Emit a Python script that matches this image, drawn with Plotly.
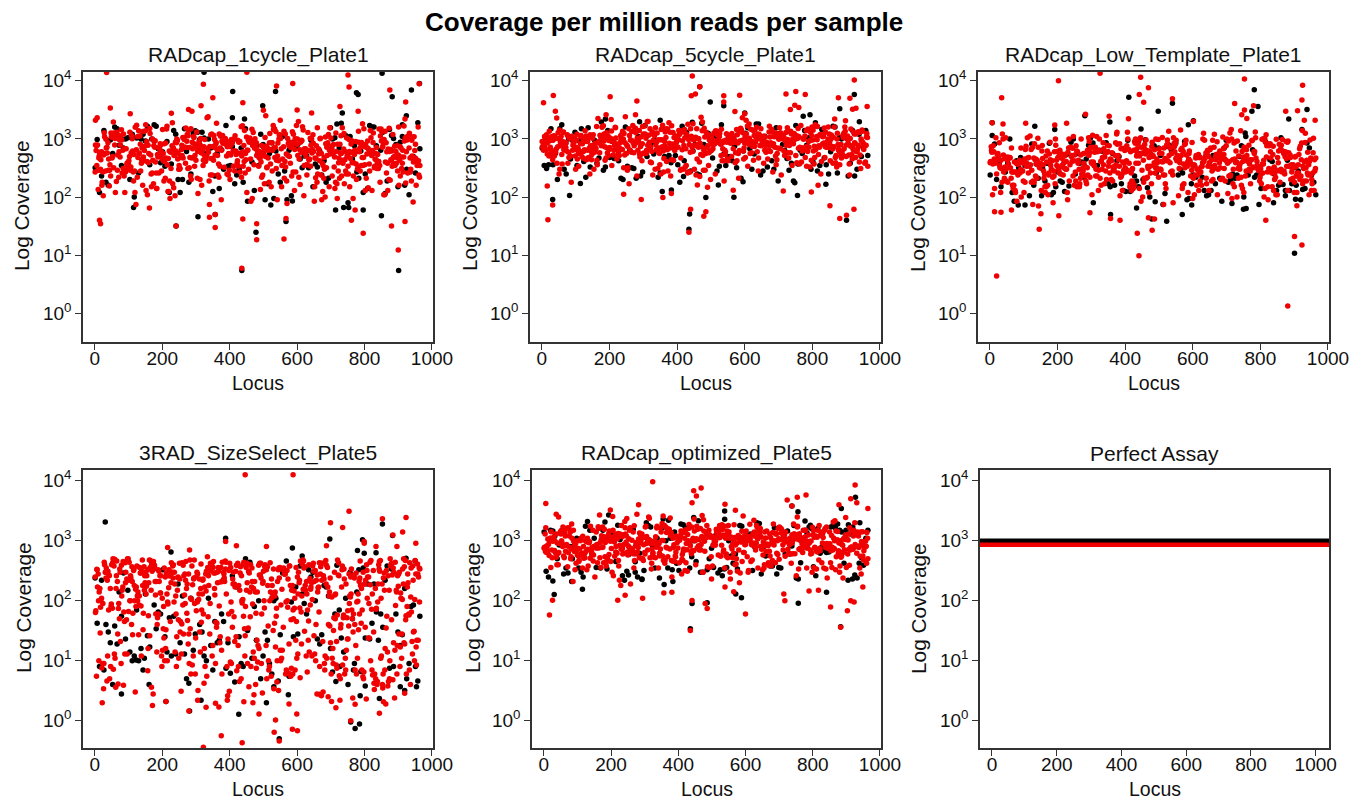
from math import gcd
import numpy as np
import plotly.graph_objects as go

W, H = 1364, 801
main_title = "Coverage per million reads per sample"
panel_titles = ["RADcap_1cycle_Plate1", "RADcap_5cycle_Plate1", "RADcap_Low_Template_Plate1",
                "3RAD_SizeSelect_Plate5", "RADcap_optimized_Plate5", "Perfect Assay"]
y_tick_vals = [1, 10, 100, 1000, 10000]
y_tick_text = ["10<sup>0</sup>", "10<sup>1</sup>", "10<sup>2</sup>", "10<sup>3</sup>", "10<sup>4</sup>"]
x_tick_vals = [0, 200, 400, 600, 800, 1000]

# ---- panel 1: RADcap_1cycle_Plate1
p1_red_x = [35,322,350,315,46,2,7,105,227,278,288,539,587,439,600,643,727,751,754,875,922,962,451,500,781,14,17,357,340,357,796,480,480,561,436,900,920,880,241,761,567,439]
p1_red_y = [13900,8700,5100,3700,3400,2100,2300,2700,2750,3200,3000,8100,9000,4200,3150,2800,3600,12500,7800,6900,4300,8900,14000,3100,3000,40,35,30,45,50,24,35,18.5,19,6,12.3,38,32,32,40,43,42]
p1_blk_x = [324,409,536,776,781,852,882,939,963,498,734,912,924,408,444,436,901,478,567,306,357,241,115,753,796,714,850,522,586]
p1_blk_y = [14000,6500,6500,6200,5800,13500,5300,6900,9000,3700,2800,1750,2500,2300,2200,5.5,5.5,25,38,46,50,32,66,66,60,60,48,73,86]
p1_red_bulk = [270,520,880,310,720,190,610,1150,420,130,760,340,95,1300,560,240,82,880,460,1050,300,680,150,520,1250,78,410,920,260,640,
1080,350,175,730,480,1500,220,600,90,830,380,1180,540,280,950,120,680,430,1600,310,760,200,1020,470,150,880,350,640,1240,95,
530,290,780,1400,420,180,900,610,250,1090,360,720,130,500,1340,280,840,440,105,660,980,220,570,1560,340,790,165,450,1120,620,
75,390,870,240,1700,520,310,690,1010,140,460,810,270,590,1260,85,370,730,190,950,500,1650,280,640,120,860,410,1110,330,560,
210,770,1440,480,160,920,350,650,1820,270,530,1030,115,700,420,260,880,590,1270,180,340,760,480,1000,60,620,230,840,1500,370,
150,560,930,290,720,450,1190,195,640,1380,340,820,105,510,1060,260,690,440,170,910,590,1620,310,750,135,480,1130,370,630,220,
860,1480,520,280,95,710,400,1000,170,560,1290,330,800,460,1090,230,620,130,950,380,1550,680,270,520,850,145,440,1210,320,730,
1080,210,590,360,1680,490,125,780,270,1020,540,350,880,185,660,1320,430,90,720,300,1130,500,215,840,610,1450,250,390,980,155,
570,710,340,1240,110,460,890,280,630,1540,200,750,420,1040,325,160,680,520,1360,240,810,380,1110,135,590,300,920,480,1720,210,
660,350,1000,105,540,780,270,1260,430,160,870,620,320,1470,500,230,740,1080,380,125,580,960,290,1190,440,700,190,830,550,1390,
260,100,640,1050,350,780,480,1620,220,560,900,310,1170,140,690,420,1020,250,800,530,1340,170,370,620,1090,85,470,750,280,1510,
590,200,860,340,1130,440,680,130,980,510,1280,240,720,380,1060,160,600,850,300,1430,480,110,770,560,230,1220,350,650,940,180,
530,1590,280,820,420,1000,145,710,360,1150,490,240,630,1330,95,870,450,310,1040,590,190,760,1480,370,120,680,520,980,260,1210,
430,800,340,1120,210,570,1670,150,720,480,900,290,1010,610,230,850,400,1350,540,320,760,1060,480,1500,260,640,880,360,1180,230]
p1_red_more = [480,650,390,820,560,700,440,910,610,330,750,520,1020,270,680,470,860,590,380,1240,640,510,930,300,720,460,1100,570,240,790,
2000,620,410,860,540,170,980,350,660,1900,450,770,290,580,1180,400,710,125,520,880,360,640,2300,470,1020,210,690,560,310,830,
430,600,1350,280,740,510,970,380,200,640,2100,490,820,340,1150,550,720,160,430,900,610,280,1060,470,680,370,1700,530,230,790,
450,1000,320,620,860,410,150,730,560,1290,380,670,2500,490,250,940,600,350,780,110,520,1120,430,700,290,880,570,1480,340,650,
470,1850,220,800,530,390,1010,620,180,740,460,1200,310,580,920,420,690,75,510,850,360,1400,640,270,770,480,1080,550,190,710,
410,960,300,620,2200,450,830,350,560,1170,240,690,490,1000,140,600,380,790,1550,520,280,720,430,900,340,1260,610,200,500,860,
65,390,740,570,1030,310,660,470,1750,250,820,530,360,980,600,170,700,440,1140,290,640,510,880,400,1380,560,220,760,450,1000,
350,620,120,810,530,1600,270,700,440,920,580,330,1210,480,760,190,630,1040,390,550,2400,300,840,470,650,1080,230,720,520,960,
410,1450,130,600,790,350,1020,490,680,260,870,560,1300,420,210,740,510,930,330,620,1950,460,1100,380,700,150,540,850,290,660,
480,1190,370,780,580,240,990,440,710,1520,320,630,500,880,180,560,1060,400,740,280,670,90,470,950,350,1340,600,220,810,520]
p1_blk_bulk = [320,520,250,1100,90,370,1300,170,1000,120,85,1200,66,340,560,420,1000,680,510,180,880,280,120,640,90,360,620,1500,200,1850,
1700,960,240,560,1900,320,610,150,1100,900,410,800,1650,210,180,1050,700,300,160,620,1040,260,450,1500,800,180,340,760,1200,920,
270,700,1000,1800,650,180,330,1300,500,800,200,1020,250,600,1600,350,1200,760,300,700,1050,140,1400,370,980,480,720,120,1150,620,
390,1600,760,1000,450,240,350,1000,560,230,150,1300,110,880,200,1450,95,680,1700,130,260,1100,170,780,1550,230,120,950,1380,300,
105,1200,190,860,1650,140,400,1040,80,730,1500,210,125,980,320,1270,160,640,1400,115,560,1750,250,900,100,1150,350,1600,180,700]

# ---- panel 2: RADcap_5cycle_Plate1
p2_red_x = [5,34,40,202,281,445,442,454,467,538,538,585,722,751,779,748,735,760,877,911,924,919,929,962,571,600,190,277,18,32,16,294,242,852,881,901,923,440,435,479,485,358,383,797,490,460,714,566]
p2_red_y = [4200,5600,3000,5300,4500,12000,5500,5900,7900,5500,4300,5650,5900,6500,5800,3800,3200,3450,5100,5000,10300,3250,3350,3600,2950,2700,2600,2600,41,73,155,91,112,71,43,49,62,62,25,47,56,98,115,123,148,161,127,131]
p2_blk_x = [32,82,114,188,289,350,467,498,538,600,445,773,793,881,924,939,437,435,419,356,383,485,522,568,756,901,840,595,748]
p2_blk_y = [91,107,172,2200,1980,2100,7900,4300,3700,2800,1930,2450,2600,3300,5800,1970,51,28,225,125,132,98,161,99,107,40,166,183,176]
p2_red_bulk = [900,480,1350,720,290,1100,620,1450,380,950,520,820,225,1200,680,310,1000,560,1550,760,240,880,440,1250,660,950,350,1750,610,1080,
780,400,1300,930,520,1150,270,850,1650,640,1020,450,730,1480,330,900,590,1220,790,420,1060,680,1380,250,960,550,1140,840,360,1700,
720,1020,470,1280,610,880,300,1120,750,520,1420,920,390,680,1180,830,230,1050,580,1500,740,970,440,1330,650,1100,340,860,1600,560,
1000,780,270,1240,700,910,480,1380,620,1060,360,820,1520,540,1170,720,300,990,650,1290,420,870,1630,760,1030,510,240,1210,680,930,
370,1110,590,1450,800,450,1020,700,1300,260,880,620,1190,530,960,1680,340,770,1100,640,420,1350,850,580,1020,290,730,1500,960,470,
1240,680,370,900,1130,600,1420,800,250,1030,520,1290,720,430,950,1600,640,1080,350,840,1180,560,290,980,760,1380,470,1060,670,1220,
320,880,1520,590,1010,730,400,1280,850,1120,540,690,240,970,1430,630,810,1150,450,1040,700,300,1330,580,900,1650,760,510,1090,390,
860,1240,660,960,270,1180,610,780,1480,420,1020,720,350,1310,880,560,1120,640,1590,480,930,300,1060,740,1250,520,850,400,1400,680,
1000,230,790,1170,590,1510,700,440,1080,860,330,1260,620,970,1680,510,750,1140,380,920,640,1350,280,1040,810,560,1220,700,460,1560,
900,340,1100,660,1300,520,830,1010,250,740,1440,590,1170,400,960,690,1260,310,850,1580,540,1070,780,360,1190,620,910,1370,480,730,
1030,270,1490,650,840,1140,430,980,710,1320,560,240,880,1210,610,1050,370,770,1640,500,920,1120,660,300,1010,820,1400,540,1250,430,
700,950,1100,280,1530,640,860,1180,390,1060,600,740,1340,480,960,250,1230,700,860,1470,320,1040,580,1120,770,410,900,1660,530,1000,
290,830,1290,620,1080,450,960,1540,730,340,1150,560,880,1380,680,250,1020,510,1200,790,400,1450,640,970,300,1110,720,1320,480,860,
1040,620,1500,380,780,1160,540,930,1280,330,1070,690,450,1220,850,600,1010,1390,300,760,1120,550,1600,420,900,700,1250,380,1030,640]
p2_red_more = [800,950,700,1100,850,620,1020,760,1250,900,540,1160,820,680,1400,960,730,1080,480,880,1900,650,1030,790,420,1200,910,580,1320,740,
2100,1000,860,640,1150,520,970,770,2300,690,1090,840,450,1260,600,930,210,1040,720,1500,870,560,1130,780,390,990,660,1830,1060,830,
710,1220,500,940,1600,800,620,1080,2000,750,1170,430,900,680,1300,850,570,1010,190,760,1120,650,1420,920,490,1050,810,2250,700,980,
590,1190,860,360,1350,730,1020,630,1100,880,1700,520,960,760,1240,440,1070,820,170,670,1150,900,580,1480,790,1000,2400,710,1300,610,
930,460,1060,840,1210,740,1950,560,1130,970,660,1370,810,410,1010,720,1550,890,530,1180,770,160,1040,640,1260,940,600,1090,2150,750,
1000,480,1320,860,700,1120,570,950,1780,800,650,1030,370,1230,910,730,1450,540,1070,830,2050,680,1160,990,470,1280,760,890,620,1100,
1640,720,1020,510,1210,870,660,1380,780,1050,430,940,1140,590,2200,810,690,1000,1300,550,900,740,1170,350,1060,830,1500,640,970,1240,
720,1080,490,910,1720,780,620,1130,850,2350,570,1010,700,1350,920,450,1190,800,660,1040,1560,740,880,530,1100,960,180,1270,610,840,
1010,710,1410,590,1150,860,2000,760,1060,470,930,1220,650,800,1660,990,540,1120,730,1310,870,380,1080,680,1470,900,620,1190,2280,770,
1030,510,1250,840,690,1120,950,1590,580,1000,810,440,1180,740,1360,890,640,1070,200,920,1210,700,1030,1800,560,860,1130,650,980,750]
p2_blk_bulk = [700,550,1100,380,750,420,600,1050,470,300,800,920,380,520,1500,420,950,520,300,210,230,420,700,250,470,380,1050,620,350,290,
430,200,800,550,1400,680,310,1050,500,460,360,620,950,780,280,1300,460,390,560,330,840,700,1550,320,1100,500,900,470,1250,620,
1400,270,950,640,520,360,1100,870,500,1250,640,1000,350,480,1450,750,330,560,1300,450,800,460,1500,280,500,1200,620,340,1050,540,
1400,350,800,1550,640,420,1000,1250,500,360,240,1700,300,210,1600,260,1750,330,280,1850,220,370,1650,250,190,1500,310,1800,270,230,
1450,200,1600,340,290,1900,240,410,1700,180,300,1550,260,350,1800,230,1400,320,210,1650,280,1950,400,250,1500,190,360,1750,300,220]

# ---- panel 3: RADcap_Low_Template_Plate1
p3_red_x = [20,881,441,436,901,923,146,480,816,487,469,357,385,204,14,33,64,151,296,908,326,446,203,753,35,469,442,455,540,925,923,724,875,910,753,780,283,353,410,745,760,930,962,7,39,106,227,192,602]
p3_red_y = [4.4,1.34,9.8,24,21,15,28,27,40,42,44,43,40,48,56,55,60,52,54,71,13500,11500,10000,10700,5100,7600,5800,4250,4900,8400,4650,4050,3000,3050,3150,3700,2650,2450,2230,2600,2250,2100,2100,1900,1800,1850,1850,1740,2000]
p3_blk_x = [411,782,540,498,938,884,775,793,587,602,355,281,133,7,192,447,901,523,357,569,479,434,597,84,104,750,758,716,904,839,874,306,489,153,923,755]
p3_blk_y = [5200,7000,4100,3000,3200,2200,3000,3600,1750,2050,1950,2500,1650,1900,1450,1480,10.8,38.5,50,50,42,65,73,73,73,62,64,78,92,80,105,80,83,105,1450,1270]
p3_red_bulk = [390,210,720,330,170,480,95,760,260,420,120,600,340,180,920,280,110,530,380,760,210,100,450,300,1250,160,640,370,1050,240,
520,130,850,310,430,190,680,270,110,590,360,820,220,470,140,320,720,400,180,560,260,950,150,490,340,640,200,420,120,780,
300,530,170,380,880,240,620,450,130,350,1000,210,560,290,720,160,440,1050,260,620,180,390,830,310,520,110,470,230,990,350,
660,150,420,280,870,190,540,340,1050,240,610,130,450,300,760,210,380,1000,170,590,320,460,880,100,260,680,410,190,520,310,
990,140,380,620,230,750,450,170,330,1000,270,540,400,120,840,300,610,190,480,950,220,360,700,160,440,280,1050,130,570,340,
790,210,420,630,180,500,310,900,240,380,120,680,450,160,300,980,560,210,370,810,140,480,270,620,1000,190,400,330,730,110,
520,260,880,350,170,440,1030,230,590,300,120,750,410,200,960,340,510,150,660,280,430,860,190,370,560,100,720,260,450,1000,
170,390,610,310,820,130,480,230,540,950,280,410,160,700,350,110,500,240,880,320,600,180,430,1050,270,520,150,370,760,210,
640,330,920,170,460,280,690,120,410,1000,250,560,340,140,830,430,190,610,300,980,230,510,360,760,160,420,110,650,290,890,
190,470,340,710,130,550,260,1000,400,170,620,300,830,220,450,115,580,360,950,240,490,180,700,310,420,870,140,540,260,1020,
370,200,640,440,105,780,290,510,160,890,350,230,600,420,1050,180,470,300,720,120,560,240,930,380,190,650,320,480,820,150,
430,270,1000,210,560,340,700,130,480,250,860,390,170,610,300,1030,220,520,400,130,760,280,450,180,920,330,590,240,690,110,
500,360,850,200,440,290,1000,150,620,380,230,780,470,120,540,310,960,190,420,680,260,800,350,140,570,430,1080,210,310,650,
480,170,900,270,390,1100,200,520,600,300,840,160,440,720,230,1050,350,560,130,480,280,900,210,390,620,170,1000,330,500,190]
p3_red_more = [340,420,280,520,380,310,460,250,600,400,350,490,220,560,330,430,270,680,370,300,1300,450,240,530,390,320,75,620,290,410,
360,500,200,740,340,440,260,580,380,90,470,310,660,230,1150,410,350,540,270,800,390,190,480,320,610,250,430,85,370,510,
290,1400,440,350,220,570,400,300,720,260,460,80,340,640,210,1200,380,490,280,550,330,170,430,700,240,360,1350,510,300,420,
270,590,350,130,460,770,230,400,320,1250,530,280,410,70,610,340,250,480,150,670,300,440,210,860,370,520,1100,290,390,180,
450,580,310,95,360,750,260,470,1450,340,200,560,410,280,630,120,380,490,240,830,330,1180,430,300,540,160,400,690,270,370,
510,85,320,600,230,450,1000,290,380,140,520,350,260,740,420,1320,310,480,200,590,340,270,110,440,660,300,390,170,530,960,
250,410,320,1220,570,280,460,75,360,720,230,500,340,150,620,300,430,1380,260,380,540,190,810,320,470,100,280,640,350,410,
220,520,1120,300,450,130,370,700,260,480,340,1270,590,240,400,310,90,550,280,760,360,430,170,510,1020,290,390,210,620,340,
1430,470,250,380,120,560,300,680,420,230,350,900,270,490,1160,330,80,440,600,260,370,190,520,310,730,400,280,1300,460,340,
230,580,140,360,650,290,430,950,250,500,1060,320,410,105,540,270,380,780,220,450,340,1210,600,300,160,480,260,710,390,330]
p3_blk_bulk = [240,220,450,280,260,540,160,75,380,75,200,350,500,130,380,210,600,110,480,220,160,300,125,130,520,190,240,560,350,240,
170,270,480,620,180,300,400,320,240,180,250,700,310,220,150,440,210,500,300,170,640,240,220,380,170,850,190,410,260,320,
650,190,480,250,420,150,520,350,700,240,560,130,760,270,440,760,210,430,230,320,200,160,380,130,340,850,170,250,430,640,
150,820,500,370,240,300,420,180,560,200,110,850,140,95,1000,130,780,120,900,100,160,1100,125,85,950,150,820,105,1050,135,
90,880,165,740,110,1000,145,820,100,950,120,700,170,1150,130,780,90,900,155,1050,115,840,140,970,105,760,125,1000,85,860]

# ---- panel 4: 3RAD_SizeSelect_Plate5
p4_red_x = [446,588,754,853,923,699,735,913,884,799,952,388,420,509,896,687,834,799,281,216,437,547,532,322,375,586,601,536,599,487,715,279,576,772,171,211,305,330,358,442,469,844,856,759,667,919]
p4_red_y = [12600,12600,3100,2330,2450,2000,1660,1400,1250,910,910,970,830,800,800,830,800,970,700,770,0.43,0.46,0.64,0.36,0.56,0.72,0.68,1.03,1.3,1.3,1.65,1.45,1.9,1.88,1.8,2.1,2.2,1.67,1.95,2.07,2.0,1.33,2.07,1.0,2.75,2.86]
p4_blk_x = [31,388,697,794,883,853,586,615,226,568,834,799,779,923,950,79,281,427,547,759,772,785,787,844,906,919,954,802,509,531,574,315,211,161,123,147,715,727,767]
p4_blk_y = [2050,1100,1070,1040,1230,1900,760,560,650,460,630,620,690,510,460,2.8,1.45,1.28,0.5,0.95,0.74,0.88,2.6,2.35,3.7,3.2,3.7,3.8,2.0,3.7,2.7,2.2,2.1,4.0,10.3,11,4.5,8,7]
p4_red_bulk = [250,130,60,340,22,100,480,9,250,45,300,4.5,140,62,8.5,290,22,110,380,5,160,40,300,12,470,70,200,4.2,350,100,
16,420,30,7.5,260,130,54,500,6,180,21,380,95,10,310,48,140,540,4,230,33,90,420,13,170,280,60,7,350,110,
26,450,190,4.2,80,310,15,220,55,390,9,130,470,36,260,6.5,100,340,21,160,500,11,210,70,290,4.1,420,130,28,360,
52,180,8,260,430,95,17,330,60,210,6.8,490,140,24,280,75,390,11,170,500,40,240,6,120,350,18,300,88,210,8.5,
440,32,150,270,66,5,380,110,20,230,480,50,9.5,310,170,28,420,100,6.8,250,60,350,14,190,500,38,130,280,8,400,
70,220,4.5,330,150,23,460,90,12,260,55,370,180,7,300,110,31,430,16,210,82,340,6,160,480,45,240,9,120,380,
25,280,65,11,190,420,100,35,310,5.5,220,150,470,18,80,260,42,340,13,120,400,7.5,180,58,290,22,360,95,4,210,
27,130,450,8.5,75,300,160,14,240,52,390,105,6,270,30,170,440,11,90,220,48,330,7,140,500,20,260,65,380,10,
185,35,300,120,5.5,430,78,16,250,150,45,360,8,200,95,24,320,12,170,470,60,6,280,110,36,400,9,230,70,19,
340,135,5,260,50,420,14,190,85,310,7,150,28,370,105,11,240,40,460,18,160,65,300,8,210,125,33,390,13,270,
6,175,55,340,95,21,430,10,230,140,42,310,7,190,80,26,380,15,130,470,60,9,260,105,34,350,5.5,200,70,420,
12,155,280,48,8,330,115,23,240,400,62,10,180,300,38,130,440,6.5,90,260,18,370,52,210,9,150,28,320,76,480,
11,225,100,350,41,7,195,290,58,15,140,410,30,6,240,85,330,20,170,460,48,12,270,120,5,360,68,200,25,310,
9.5,155,430,36,95,250,14,190,62,340,7.5,125,280,22,400,75,11,210,50,360,17,145,300,6,88,260,32,420,10,180,
45,320,8,220,115,28,380,5.5,165,72,290,13,240,54,350,19,130,440,9,200,40,310,7,100,250,24,360,65,11,170,
280,6,80,400,34,150,12,230,56,320,8,190,105,21,260,44,370,15,135,300,5,90,220,30,340,10,60,160,4.5,210]
p4_red_more = [280,3.2,110,350,14,240,420,3.6,170,68,300,10,210,130,25,380,2.8,90,260,17,450,6,190,75,320,12,150,3.4,400,40,
230,8,310,105,2.4,180,360,30,95,270,12,480,4.8,140,56,340,3.1,220,85,19,410,7,260,120,2.6,300,46,160,5,370,
200,23,440,9,130,280,3.8,340,62,15,240,2,180,390,35,100,310,6,210,78,460,13,150,2.9,290,52,360,10,120,230,
3.5,420,27,170,82,330,5.2,250,110,16,380,2.2,200,64,300,8,450,140,3,270,44,350,11,190,95,4,320,21,160,410,
7,240,72,2.7,370,125,18,280,50,430,3.3,210,100,9,340,31,150,260,5.8,400,66,2.1,310,13,180,88,470,3.7,230,38,
360,115,6.2,290,24,200,430,2.5,145,58,320,10,250,80,3.9,390,16,170,280,34,2.3,440,120,7,220,48,350,12,190,92,
300,3,410,20,155,260,5.4,370,74,2.6,230,105,15,330,42,180,460,8,280,135,3.2,210,60,390,11,165,250,28,4.4,350,
98,310,7.2,220,480,18,140,2.8,290,54,400,13,185,83,340,3.6,240,36,160,420,6,300,112,26,2.4,360,70,200,9,270,
430,16,130,320,4.6,235,47,380,10,175,90,2.2,300,22,450,150,5,260,68,340,3.4,210,125,14,400,33,190,280,7.6,370,
85,1.9,310,12,230,440,29,155,3.1,290,60,360,8.5,205,100,19,420,4,270,140,40,1.7,335,76,245,11,390,170,5.6,300]
p4_blk_bulk = [240,60,110,27,6.3,12,36,22,440,350,32,10,14,20,4,180,110,55,90,4.2,18,280,52,60,30,17,6.6,500,14,24,
7.5,20,27,10,4.6,130,5,30,290,14,22,12,26,330,8,150,70,45,30,19,12,8,380,13,60,27,25,65,5,130,
140,9,23,390,60,40,23,30,85,28,120,8,4.6,330,190,100,7,9,25,290,60,22,7,100,40,80,170,20,340,110,
60,42,22,16,50,170,55,6.5,20,220,300,100,9,25,190,7.5,100,65,23,80,10,300,4.4,140,16,45,8,250,28,5,
95,13,380,6,34,190,11,70,4,260,19,120,7,42,330,15,160,5.5,55,220,9,85,24,440,12,110,6.2,38,170,18]

# ---- panel 5: RADcap_optimized_Plate5
p5_red_x = [324,6,37,198,282,277,441,446,454,468,539,570,724,754,780,878,913,926,931,964,738,754,355,17,26,220,242,294,436,441,486,480,600,717,714,853,883,903,913,923,789,357,381,565,949]
p5_red_y = [9600,4200,2780,3250,4000,2780,4300,6800,5600,7600,4070,3240,4800,5300,5800,4000,5000,8500,4300,3450,3800,2500,2600,58,102,102,123,110,32,101,74,90,60,100,129,79,36,68,100,95,145,135,139,141,170]
p5_blk_x = [193,220,355,371,446,538,538,738,756,777,793,885,927,940,436,441,486,571,588,115,27,31,83,757,883,841,905,918,384,358,292,252,272]
p5_blk_y = [2700,1820,2300,2200,2450,3150,2280,3800,3050,2140,1820,3450,5300,1990,34,90,93,129,112,155,214,127,210,91,37,138,220,230,210,187,226,270,447]
p5_red_bulk = [750,1450,620,1700,980,350,1250,560,800,1050,180,1350,700,450,1600,900,280,1150,620,1800,760,330,1000,520,1400,850,260,1200,680,1900,
950,420,1500,730,1100,300,870,1650,560,1020,700,1800,380,1250,900,520,1450,640,1080,350,1700,800,470,1300,580,1000,240,1550,760,1120,
430,920,1400,650,300,1200,820,1750,540,1050,700,350,1450,880,610,1300,250,1000,480,1650,780,1150,380,900,1500,640,320,1200,740,1800,
520,1020,420,1380,860,600,1600,300,1100,700,1400,480,950,220,1250,770,580,1700,840,350,1100,650,1500,400,980,1280,530,800,1850,300,
1150,690,1400,470,1000,760,230,1300,600,1600,870,390,1180,720,1450,540,980,320,1700,830,470,1250,650,1050,1500,280,900,720,1350,560,
1800,430,1020,760,1300,350,940,620,1550,800,260,1150,520,1400,700,1000,380,1750,610,1220,870,450,1080,680,1500,330,950,760,1300,540,
1650,240,1100,800,1400,470,980,640,1800,350,1180,730,1500,560,880,290,1320,680,1050,420,1600,780,1200,500,950,340,1450,720,1000,610,
2000,880,450,1250,660,1650,380,1050,780,1400,530,930,310,1200,840,1700,600,1100,430,1500,730,1000,350,1300,650,1850,520,900,1150,400,
1600,770,1000,580,1400,340,1200,690,1800,470,1000,880,1500,610,1100,360,1300,750,2050,540,960,420,1550,820,1180,650,1400,370,1000,720,
1700,500,1250,870,340,1450,620,1080,1950,780,450,1300,920,1600,560,1050,350,1400,700,1150,480,1750,860,620,1000,1350,400,1500,760,1100,
540,1900,340,1200,800,1450,620,950,370,1300,700,1650,520,1050,880,430,1500,660,1150,360,1750,770,1000,590,1400,330,1250,840,550,1600,
700,1100,400,1450,620,920,1300,250,1700,560,1050,780,1400,330,1150,660,1900,470,1000,860,1500,360,1250,720,1100,540,1650,300,950,800,
1350,600,1050,1800,420,1200,740,1500,300,1000,860,1650,560,1150,380,1400,700,1000,490,1750,820,310,1280,650,1050,1500,430,900,1350,620,
1150,360,1700,780,1000,520,1450,300,1200,700,1000,1600,430,900,1300,600,1550,350,1100,800,1400,500,1050,1250,360,950,1450,640,1150,520]
p5_red_more = [880,1120,760,1310,940,640,1070,820,1430,990,580,1210,860,700,2200,1020,740,1160,510,920,2400,680,1090,830,430,1260,960,610,1380,780,
1040,2100,900,670,1190,550,1010,790,2600,720,1130,870,470,1340,620,970,200,1080,750,1560,910,590,1170,810,410,1030,690,2300,1100,850,
730,1280,520,980,1680,830,640,1120,2500,770,1220,450,930,710,1360,880,600,1050,170,790,1170,670,1490,950,510,1090,840,2700,720,1020,
610,1240,890,380,1420,760,1060,650,1150,910,1780,540,1000,790,1300,460,1110,850,190,700,1190,930,600,1550,820,1040,2350,740,1360,630,
970,480,1100,870,1260,770,2250,580,1170,1010,680,1440,840,430,1050,750,1620,920,550,1230,800,150,1080,660,1320,980,620,1130,2550,780,
1040,500,1380,890,720,1160,590,990,1860,830,670,1070,390,1280,940,760,1520,560,1110,860,2450,700,1210,1030,490,1340,790,920,640,1140,
1720,750,1060,530,1260,900,680,1440,810,1090,450,980,1190,610,2150,840,710,1040,1360,570,930,770,1220,360,1100,860,1570,660,1010,1300,
750,1120,510,950,1800,810,640,1170,880,2650,590,1050,730,1410,960,470,1240,830,680,1080,1630,770,910,550,1140,1000,210,1330,630,870,
1050,740,1470,610,1200,890,2380,790,1100,490,970,1270,670,830,1740,1030,560,1170,760,1370,900,400,1120,710,1540,940,640,1240,2500,800,
1070,530,1310,870,720,1170,990,1660,600,1040,840,460,1230,770,1420,920,660,1110,230,960,1260,730,1070,1880,580,890,1180,670,1020,780]
p5_blk_bulk = [1400,780,620,1300,600,1050,1700,1250,350,1600,450,300,820,420,1350,380,1100,1500,320,250,1850,420,1250,650,360,1650,1700,1000,350,600,
1400,850,380,350,1100,1300,300,1500,560,450,640,750,360,1350,540,1100,1450,330,500,850,800,390,1100,1550,420,1000,1300,680,500,1100,
1500,350,850,600,1100,1200,560,1700,520,1050,640,1400,360,1200,800,330,600,950,1600,500,1100,350,1450,800,1800,420,1050,590,1500,340,
1250,620,1100,1500,430,1650,800,350,1000,1500,280,2000,240,1750,310,1900,260,340,1600,300,2100,230,1850,290,360,1700,250,1950,320,270,
1800,220,1650,330,2050,260,300,1750,240,1900,350,280,1600,310,2000,230,1700,340,260,1850,290,1500,370,2150,250,1800,320,280,1650,240]

# ---- panel 6: Perfect Assay
p6_locus = [-40, 1045]
p6_black = [1000, 1000]
p6_red = [858, 858]

panels = [
    (p1_red_bulk + p1_red_more, p1_blk_bulk, p1_red_x, p1_red_y, p1_blk_x, p1_blk_y),
    (p2_red_bulk + p2_red_more, p2_blk_bulk, p2_red_x, p2_red_y, p2_blk_x, p2_blk_y),
    (p3_red_bulk + p3_red_more, p3_blk_bulk, p3_red_x, p3_red_y, p3_blk_x, p3_blk_y),
    (p4_red_bulk + p4_red_more, p4_blk_bulk, p4_red_x, p4_red_y, p4_blk_x, p4_blk_y),
    (p5_red_bulk + p5_red_more, p5_blk_bulk, p5_red_x, p5_red_y, p5_blk_x, p5_blk_y),
]

# layout in pixels: left, right, top, bottom
frames = [(83, 433, 72, 342), (530, 881, 72, 342), (978, 1329, 72, 342),
          (83, 433, 470, 748), (532, 881, 470, 748), (980, 1329, 470, 748)]
ranges_y = [(-0.49, 4.15)] * 3 + [(-0.455, 4.18)] * 3
ranges_x = [(-35, 1003)] * 5 + [(-37, 1041)]
ytitle_x = [22, 470, 918, 23, 472, 918]
FONT = "Liberation Sans, Arial, sans-serif"
INK = "#111111"

fig = go.Figure()


def loci(n):
    """Locus index for each read-off value; the stride keeps neighbours in a list apart along the axis."""
    k = int(0.618 * n)
    while gcd(k, n) != 1:
        k += 1
    return [int(round(1 + ((i * k) % n) * 963 / (n - 1))) for i in range(n)]


for i, (rb, bb, rx, ry, bx, by) in enumerate(panels):
    xa, ya = f"x{i+1}", f"y{i+1}"
    fig.add_trace(go.Scatter(x=loci(len(bb)) + bx, y=bb + by, mode="markers", xaxis=xa, yaxis=ya,
                             marker=dict(color="black", size=5.5), showlegend=False))
    fig.add_trace(go.Scatter(x=loci(len(rb)) + rx, y=rb + ry, mode="markers", xaxis=xa, yaxis=ya,
                             marker=dict(color="#f00000", size=5.5), showlegend=False))
fig.add_trace(go.Scatter(x=p6_locus, y=p6_black, mode="lines", xaxis="x6", yaxis="y6",
                         line=dict(color="black", width=4.5), showlegend=False))
fig.add_trace(go.Scatter(x=p6_locus, y=p6_red, mode="lines", xaxis="x6", yaxis="y6",
                         line=dict(color="#f00000", width=4.5), showlegend=False))

layout = dict(width=W, height=H, autosize=False, margin=dict(l=0, r=0, t=0, b=0),
              paper_bgcolor="white", plot_bgcolor="white", showlegend=False,
              font=dict(family=FONT, size=19, color=INK))
anns = [dict(text=f"<b>{main_title}</b>", x=664 / W, y=1 - 22 / H, xref="paper", yref="paper",
             showarrow=False, font=dict(size=26, color="#000000", family=FONT), xanchor="center", yanchor="middle")]
for i, (l, r, t, b) in enumerate(frames):
    sfx = "" if i == 0 else str(i + 1)
    common = dict(showline=True, mirror=True, linecolor="#333333", linewidth=1.5, showgrid=False, zeroline=False,
                  automargin=False, ticks="outside", ticklen=6, tickwidth=1.3, tickcolor="#333333",
                  tickfont=dict(size=19, family=FONT, color=INK))
    layout["xaxis" + sfx] = dict(common, domain=[l / W, r / W], range=list(ranges_x[i]), anchor=f"y{i+1}",
                                 tickvals=x_tick_vals, ticktext=[str(v) for v in x_tick_vals], tickangle=0,
                                 ticklabelstandoff=-8)
    layout["yaxis" + sfx] = dict(common, domain=[1 - b / H, 1 - t / H], type="log", range=list(ranges_y[i]),
                                 anchor=f"x{i+1}", tickvals=y_tick_vals, ticktext=y_tick_text)
    anns.append(dict(text=panel_titles[i], x=(l + r) / 2 / W, y=1 - (t - 17) / H, xref="paper", yref="paper",
                     showarrow=False, font=dict(size=21, family=FONT, color=INK), xanchor="center", yanchor="middle"))
    anns.append(dict(text="Locus", x=(l + r) / 2 / W, y=1 - (b + 41) / H, xref="paper", yref="paper",
                     showarrow=False, font=dict(size=19.5, family=FONT, color=INK), xanchor="center", yanchor="middle"))
    anns.append(dict(text="Log Coverage", x=ytitle_x[i] / W, y=1 - ((t + b) / 2 - 1) / H, xref="paper", yref="paper",
                     textangle=-90, showarrow=False, font=dict(size=20.8, family=FONT, color=INK),
                     xanchor="center", yanchor="middle"))
layout["annotations"] = anns
fig.update_layout(**layout)
fig.write_html("out.html", config={"displayModeBar": False, "responsive": False},
               post_script="document.body.style.margin='0';document.documentElement.style.overflow='hidden';")
